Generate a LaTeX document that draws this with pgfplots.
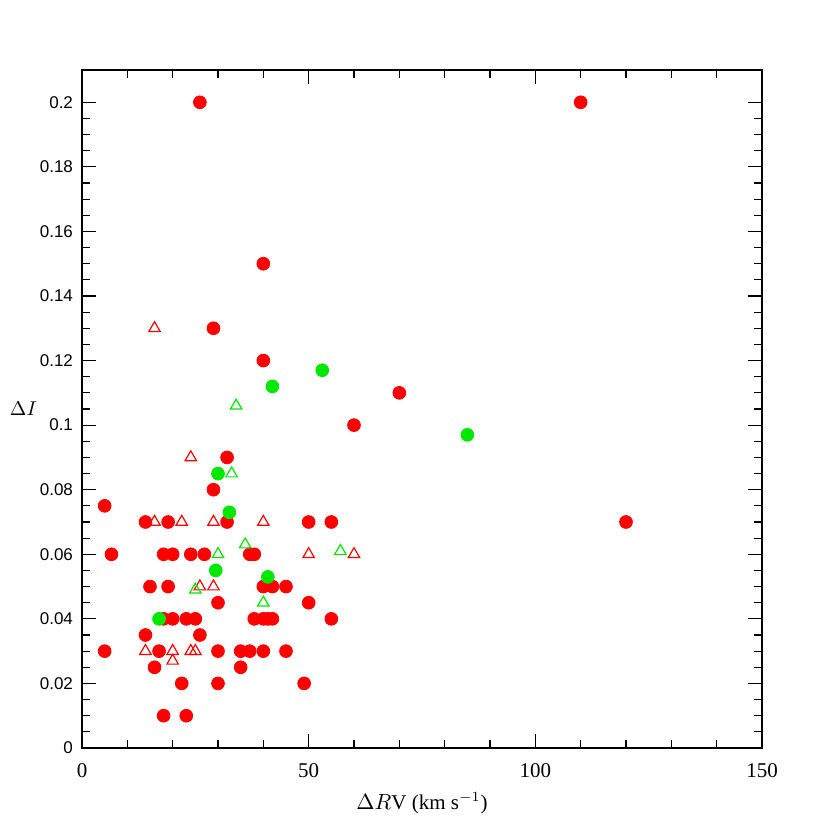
\documentclass[border=0pt]{standalone}
\usepackage{fontspec}
\setmainfont{Liberation Serif}
\newfontfamily\sansnum{Liberation Sans}
\usepackage{pgfplots}
\pgfplotsset{compat=1.18}
\definecolor{ptred}{RGB}{255,0,0}
\definecolor{ptgreen}{RGB}{0,232,0}
\begin{document}
\begin{tikzpicture}
\begin{axis}[
    scale only axis,
    width=340pt, height=339pt,
    xmin=0, xmax=150, ymin=0, ymax=0.21,
    xtick={0,50,100,150}, minor x tick num=4,
    ytick={0,0.02,0.04,0.06,0.08,0.1,0.12,0.14,0.16,0.18,0.2},
    minor y tick num=3,
    tick align=inside,
    major tick length=7pt, minor tick length=4pt,
    axis line style={line width=0.6pt},
    every tick/.style={line width=0.6pt, black},
    scaled y ticks=false,
    yticklabel style={/pgf/number format/assume math mode=true,
        /pgf/number format/fixed, font=\sansnum\fontsize{8.5}{10}\selectfont, xshift=-1pt},
    xticklabel style={/pgf/number format/assume math mode=true,
        font=\fontsize{10.5}{12}\selectfont, yshift=-4pt},
    xlabel={$\Delta R$V (km s$^{-1}$)},
    xlabel style={font=\fontsize{10.5}{12}\selectfont, yshift=-1pt},
    ylabel={$\Delta I$},
    ylabel style={rotate=-90, at={(axis description cs:0,0.5)}, anchor=east,
        xshift=-19pt, font=\fontsize{10}{12}\selectfont},
    clip=false,
]
% red filled circles
\addplot[only marks, mark=*, mark size=3.2pt, color=ptred, mark options={draw=ptred, fill=ptred}] coordinates {
(26,0.2) (110,0.2) (40,0.15) (29,0.13) (40,0.12) (70,0.11) (60,0.10)
(32,0.09) (29,0.08) (5,0.075) (120,0.07)
(14,0.07) (19,0.07) (32,0.07) (50,0.07) (55,0.07)
(6.5,0.06) (18,0.06) (20,0.06) (24,0.06) (27,0.06) (37,0.06) (38,0.06)
(15,0.05) (19,0.05) (40,0.05) (42,0.05) (45,0.05)
(30,0.045) (50,0.045)
(18,0.04) (20,0.04) (23,0.04) (25,0.04) (38,0.04) (40,0.04) (41,0.04) (42,0.04) (55,0.04)
(14,0.035) (26,0.035)
(5,0.03) (17,0.03) (30,0.03) (35,0.03) (37,0.03) (40,0.03) (45,0.03)
(16,0.025) (35,0.025)
(22,0.02) (30,0.02) (49,0.02)
(18,0.01) (23,0.01)
};
% red open triangles
\addplot[only marks, mark=triangle, mark size=3.3pt, color=ptred, mark options={line width=0.6pt}] coordinates {
(16,0.13) (24,0.09) (16,0.07) (22,0.07) (29,0.07) (40,0.07)
(50,0.06) (60,0.06) (26,0.05) (29,0.05)
(14,0.03) (20,0.03) (24,0.03) (25,0.03) (20,0.027)
};
% green filled circles
\addplot[only marks, mark=*, mark size=3.2pt, color=ptgreen, mark options={draw=ptgreen, fill=ptgreen}] coordinates {
(53,0.117) (42,0.112) (85,0.097) (30,0.085) (32.5,0.073)
(29.5,0.055) (41,0.053) (17,0.04)
};
% green open triangles
\addplot[only marks, mark=triangle, mark size=3.3pt, color=ptgreen, mark options={line width=0.6pt}] coordinates {
(34,0.106) (33,0.085) (36,0.063) (30,0.06) (57,0.061) (25,0.049) (40,0.045)
};
\end{axis}
\path (current axis.south west) ++(-41pt,-41pt);
\path (current axis.north east) ++(34pt,35pt);
\end{tikzpicture}
\end{document}
